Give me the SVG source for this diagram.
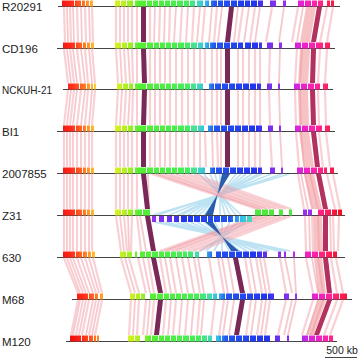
<svg xmlns="http://www.w3.org/2000/svg" width="360" height="360" viewBox="0 0 360 360">
<style>
.lbl{font-family:"Liberation Sans",Arial,sans-serif;font-size:11.5px;fill:#222}
.base{stroke:#444;stroke-width:1;fill:none}
.pa{stroke:#f4a3ab;stroke-width:2.2;stroke-opacity:.5;fill:none}
.pb{stroke:#ec8892;stroke-width:1.8;stroke-opacity:.45;fill:none}
.bl{stroke:#7cc6e6;stroke-width:1.6;stroke-opacity:.5;fill:none}
.sal{fill:#f09a9c;fill-opacity:.6}
.dk{fill:#7a2858}
.dm{fill:#b3315e}
.db{fill:#2a5db0}
.gA path{fill:url(#gA)}
.gB path{fill:url(#gB)}
</style>
<defs>
<linearGradient id="gA" gradientUnits="userSpaceOnUse" x1="60" y1="0" x2="340" y2="0">
<stop offset="0" stop-color="#ee1111"/>
<stop offset="0.04" stop-color="#ff2a1a"/>
<stop offset="0.08" stop-color="#ff6a22"/>
<stop offset="0.115" stop-color="#ffb030"/>
<stop offset="0.13" stop-color="#ffd030"/>
<stop offset="0.19" stop-color="#e4f020"/>
<stop offset="0.25" stop-color="#a0f020"/>
<stop offset="0.28" stop-color="#55ee33"/>
<stop offset="0.45" stop-color="#44ee55"/>
<stop offset="0.49" stop-color="#44ddaa"/>
<stop offset="0.52" stop-color="#33bbee"/>
<stop offset="0.55" stop-color="#2255ee"/>
<stop offset="0.70" stop-color="#2233ee"/>
<stop offset="0.74" stop-color="#7030ee"/>
<stop offset="0.81" stop-color="#9930ee"/>
<stop offset="0.85" stop-color="#dd22dd"/>
<stop offset="0.91" stop-color="#ff22aa"/>
<stop offset="0.95" stop-color="#ff2266"/>
<stop offset="1" stop-color="#ee1122"/>
</linearGradient>
<linearGradient id="gB" href="#gA" gradientUnits="userSpaceOnUse" x1="72" y1="0" x2="352" y2="0"/>
<linearGradient id="gZ" gradientUnits="userSpaceOnUse" x1="152" y1="0" x2="252" y2="0">
<stop offset="0" stop-color="#9930ee"/>
<stop offset="0.18" stop-color="#6a30ee"/>
<stop offset="0.3" stop-color="#2233ee"/>
<stop offset="0.78" stop-color="#2255ee"/>
<stop offset="0.88" stop-color="#33bbee"/>
<stop offset="1" stop-color="#44ddbb"/>
</linearGradient>
</defs>

<g id="links">
<g id="gap1">
<path class="pa" d="M64 7L65 42M70 7L71 42M77 7L78 42M85 7L86 42M92 7L93 42M116 7L116 42M124 7L124 42M132 7L132 42M150 7L150 42M160 7L159 42M170 7L169 42M182 7L180 42M194 7L192 42M205 7L202 42M217 7L214 42M243 7L238 42M255 7L250 42M272 7L266 42M298 7L292 42M327 7L320 42M333 7L327 42"/>
<path class="pb" d="M67 7L68 42M73 7L74 42M81 7L82 42M89 7L90 42M120 7L120 42M128 7L128 42M137 7L137 42M155 7L154 42M165 7L164 42M176 7L174 42M188 7L186 42M200 7L197 42M212 7L209 42M222 7L218 42M238 7L234 42M249 7L244 42M260 7L255 42M284 7L279 42M303 7L297 42"/>
<polygon class="sal" points="306,7 316,7 310,42 300,42"/>
<polygon class="dk" points="141,7 146,7 146,42 141,42"/>
<polygon class="dk" points="229,7 234,7 230,42 225,42"/>
<polygon class="dm" points="317,7 322,7 316,42 311,42"/>
</g>
<g id="gap2">
<path class="pa" d="M64 49L68 83M70 49L74 83M77 49L81 83M85 49L88 83M92 49L95 83M116 49L118 83M124 49L126 83M132 49L133 83M150 49L150 83M160 49L160 83M170 49L170 83M182 49L182 83M194 49L194 83M205 49L205 83M217 49L217 83M243 49L243 83M255 49L255 83M270 49L269 83M297 49L295 83M320 49L318 83M327 49L325 83"/>
<path class="pb" d="M67 49L71 83M73 49L77 83M81 49L85 83M89 49L92 83M120 49L122 83M128 49L130 83M137 49L137 83M155 49L155 83M165 49L165 83M176 49L176 83M188 49L188 83M200 49L200 83M212 49L212 83M221 49L221 83M238 49L238 83M249 49L249 83M260 49L260 83M280 49L279 83M302 49L300 83"/>
<polygon class="sal" points="300,49 310,49 308,83 298,83"/>
<polygon class="dk" points="141,49 146,49 147,83 142,83"/>
<polygon class="dk" points="225,49 230,49 230,83 225,83"/>
<polygon class="dm" points="311,49 316,49 315,83 310,83"/>
</g>
<g id="gap3">
<path class="pa" d="M68 90L64 125M74 90L70 125M81 90L77 125M88 90L85 125M95 90L92 125M118 90L116 125M126 90L124 125M133 90L132 125M150 90L150 125M160 90L160 125M170 90L170 125M182 90L182 125M194 90L194 125M205 90L205 125M217 90L217 125M243 90L243 125M255 90L255 125M269 90L270 125M295 90L296 125M318 90L319 125M325 90L326 125"/>
<path class="pb" d="M71 90L67 125M77 90L73 125M85 90L81 125M92 90L89 125M122 90L120 125M130 90L128 125M137 90L137 125M155 90L155 125M165 90L165 125M176 90L176 125M188 90L188 125M200 90L200 125M212 90L212 125M221 90L221 125M238 90L238 125M249 90L249 125M260 90L260 125M279 90L280 125M300 90L301 125"/>
<polygon class="sal" points="298,90 308,90 309,125 299,125"/>
<polygon class="dk" points="142,90 147,90 146,125 141,125"/>
<polygon class="dk" points="225,90 230,90 230,125 225,125"/>
<polygon class="dm" points="310,90 315,90 316,125 311,125"/>
</g>
<g id="gap4">
<path class="pa" d="M64 132L64 167M70 132L70 167M77 132L77 167M85 132L85 167M92 132L92 167M116 132L116 167M124 132L124 167M132 132L132 167M150 132L150 167M160 132L160 167M170 132L170 167M182 132L182 167M194 132L194 167M205 132L206 167M217 132L218 167M243 132L243 167M255 132L255 167M270 132L272 167M296 132L299 167M319 132L323 167M326 132L330 167"/>
<path class="pb" d="M67 132L67 167M73 132L73 167M81 132L81 167M89 132L89 167M120 132L120 167M128 132L128 167M137 132L137 167M155 132L155 167M165 132L165 167M176 132L176 167M188 132L188 167M200 132L200 167M212 132L213 167M221 132L221 167M238 132L238 167M249 132L249 167M260 132L260 167M280 132L282 167M301 132L304 167"/>
<polygon class="sal" points="299,132 309,132 314,167 304,167"/>
<polygon class="dk" points="141,132 146,132 146,167 141,167"/>
<polygon class="dk" points="225,132 230,132 230,167 225,167"/>
<polygon class="dm" points="311,132 316,132 320,167 315,167"/>
</g>
<g id="gap5">
<path class="bl" d="M199 174L241 215M204 174L236 215M210 174L230 215M215 174L225 215M220 174L220 215M236 174L204 215M241 174L199 215M246 174L194 215M252 174L188 215M258 174L182 215M262 174L178 215M271 174L169 215M282 174L158 215M289 174L153 215"/>
<path class="pa" d="M64 174L64 209M70 174L70 209M77 174L77 209M85 174L85 209M92 174L92 209M116 174L116 209M124 174L124 209M132 174L132 209M137 174L137 209M298 174L304 209M305 174L312 209M327 174L335 209M333 174L340 209M152 174L257 209M160 174L263 209M170 174L271 209M182 174L281 209M194 174L291 209"/>
<path class="pb" d="M67 174L67 209M73 174L73 209M81 174L81 209M89 174L89 209M120 174L120 209M128 174L128 209M148 174L149 209M301 174L308 209M310 174L318 209M156 174L260 209M165 174L267 209M176 174L276 209M188 174L286 209"/>
<polygon class="sal" points="304,174 314,174 322,209 312,209"/>
<polygon class="db" points="222,174 230,174 205,215 213,215"/>
<polygon class="dk" points="141,174 146,174 150,209 145,209"/>
<polygon class="dm" points="316,174 321,174 328,209 323,209"/>
</g>
<g id="gap6">
<path class="bl" d="M154 222L290 251M160 222L284 251M166 222L278 251M175 222L269 251M182 222L262 251M190 222L254 251M197 222L247 251M204 222L240 251M215 222L229 251M222 222L222 251M230 222L214 251M238 222L206 251M246 222L200 251"/>
<path class="pa" d="M64 216L64 251M70 216L70 251M77 216L77 251M85 216L85 251M92 216L92 251M116 216L121 251M124 216L127 251M132 216L131 251M137 216L141 251M257 216L160 251M263 216L167 251M271 216L176 251M281 216L188 251M291 216L199 251M305 216L306 251M312 216L313 251M333 216L334 251M339 216L338 251"/>
<path class="pb" d="M67 216L67 251M73 216L73 251M81 216L81 251M89 216L89 251M120 216L124 251M128 216L129 251M140 216L146 251M260 216L164 251M267 216L172 251M276 216L182 251M286 216L193 251M309 216L310 251M318 216L319 251M330 216L331 251"/>
<polygon class="sal" points="313,216 322,216 323,251 314,251"/>
<polygon class="db" points="205,222 213,222 231,251 239,251"/>
<polygon class="dk" points="145,216 150,216 156,251 151,251"/>
<polygon class="dm" points="323,216 328,216 328,251 323,251"/>
</g>
<g id="gap7">
<path class="pa" d="M64 258L78 293M70 258L83 293M77 258L89 293M85 258L96 293M93 258L102 293M121 258L131 293M129 258L139 293M138 258L146 293M148 258L154 293M160 258L166 293M170 258L176 293M182 258L188 293M194 258L200 293M209 258L215 293M218 258L224 293M245 258L251 293M256 258L262 293M264 258L270 293M280 258L286 293M306 258L313 293M331 258L337 293M336 258L343 293"/>
<path class="pb" d="M67 258L80 293M73 258L86 293M81 258L93 293M89 258L99 293M125 258L135 293M143 258L150 293M165 258L171 293M176 258L182 293M188 258L194 293M198 258L204 293M222 258L228 293M228 258L234 293M250 258L256 293M260 258L266 293M285 258L292 293M294 258L296 293M312 258L318 293M318 258L323 293"/>
<polygon class="sal" points="314,258 322,258 326,293 318,293"/>
<polygon class="dk" points="151,258 156,258 163,293 158,293"/>
<polygon class="dk" points="233,258 238,258 245,293 240,293"/>
<polygon class="dm" points="323,258 328,258 332,293 327,293"/>
</g>
<g id="gap8">
<path class="pa" d="M78 300L71 335M83 300L76 335M89 300L82 335M96 300L89 335M102 300L95 335M131 300L129 335M139 300L137 335M146 300L143 335M154 300L151 335M166 300L163 335M176 300L173 335M188 300L185 335M200 300L197 335M215 300L211 335M224 300L219 335M251 300L246 335M262 300L257 335M270 300L265 335M286 300L278 335M313 300L302 335M337 300L324 335M343 300L330 335"/>
<path class="pb" d="M80 300L73 335M86 300L79 335M93 300L86 335M99 300L92 335M135 300L133 335M150 300L147 335M171 300L168 335M182 300L179 335M194 300L191 335M204 300L201 335M228 300L223 335M234 300L229 335M256 300L251 335M266 300L261 335M292 300L284 335M296 300L288 335M318 300L307 335M323 300L311 335"/>
<polygon class="sal" points="318,300 326,300 314,335 306,335"/>
<polygon class="dk" points="158,300 163,300 159,335 154,335"/>
<polygon class="dk" points="240,300 245,300 239,335 234,335"/>
<polygon class="dm" points="327,300 332,300 319,335 314,335"/>
</g>
</g>

<g id="R20291">
<text class="lbl" x="2" y="10.5">R20291</text>
<path class="base" d="M58 6.5H340"/>
<g class="gA" transform="translate(0,0.5)"><path d="M62 0h12v6h-12zM75 0h6v6h-6zM82 0h3v6h-3zM86 0h3v6h-3zM90 0h3v6h-3zM115 0h5v6h-5zM121 0h5v6h-5zM127 0h6v6h-6zM135 0h11v6h-11zM147 0h5v6h-5zM153 0h5v6h-5zM159 0h5v6h-5zM165 0h5v6h-5zM171 0h5v6h-5zM177 0h6v6h-6zM184 0h5v6h-5zM190 0h5v6h-5zM197 0h6v6h-6zM205 0h4v6h-4zM211 0h6v6h-6zM218 0h5v6h-5zM224 0h6v6h-6zM231 0h6v6h-6zM238 0h6v6h-6zM245 0h5v6h-5zM251 0h6v6h-6zM258 0h5v6h-5zM270 0h6v6h-6zM283 0h3v6h-3zM298 0h6v6h-6zM305 0h6v6h-6zM312 0h5v6h-5zM318 0h5v6h-5zM327 0h3v6h-3zM331 0h3v6h-3z"/></g>
</g>

<g id="CD196">
<text class="lbl" x="2" y="52.5">CD196</text>
<path class="base" d="M57 48.5H335"/>
<g class="gA" transform="translate(0,42.5)"><path d="M63 0h12v6h-12zM76 0h6v6h-6zM83 0h3v6h-3zM87 0h3v6h-3zM91 0h3v6h-3zM115 0h6v6h-6zM122 0h5v6h-5zM128 0h5v6h-5zM135 0h11v6h-11zM147 0h6v6h-6zM154 0h5v6h-5zM160 0h5v6h-5zM166 0h5v6h-5zM172 0h5v6h-5zM178 0h6v6h-6zM185 0h5v6h-5zM191 0h6v6h-6zM198 0h5v6h-5zM205 0h4v6h-4zM210 0h6v6h-6zM217 0h6v6h-6zM224 0h6v6h-6zM231 0h6v6h-6zM238 0h5v6h-5zM245 0h6v6h-6zM252 0h6v6h-6zM259 0h3v6h-3zM267 0h6v6h-6zM279 0h3v6h-3zM295 0h6v6h-6zM302 0h6v6h-6zM309 0h6v6h-6zM316 0h7v6h-7zM325 0h5v6h-5z"/></g>
</g>

<g id="NCKUH-21">
<text class="lbl" x="2" y="93.5" textLength="50" lengthAdjust="spacingAndGlyphs">NCKUH-21</text>
<path class="base" d="M63 89.5H333"/>
<g class="gA" transform="translate(0,83.5)"><path d="M68 0h11v6h-11zM80 0h6v6h-6zM87 0h3v6h-3zM91 0h2v6h-2zM94 0h2v6h-2zM117 0h5v6h-5zM123 0h5v6h-5zM129 0h4v6h-4zM135 0h11v6h-11zM147 0h6v6h-6zM154 0h5v6h-5zM160 0h5v6h-5zM166 0h5v6h-5zM172 0h5v6h-5zM178 0h6v6h-6zM185 0h5v6h-5zM191 0h5v6h-5zM197 0h6v6h-6zM209 0h5v6h-5zM215 0h6v6h-6zM222 0h6v6h-6zM229 0h6v6h-6zM236 0h6v6h-6zM243 0h6v6h-6zM250 0h6v6h-6zM257 0h4v6h-4zM267 0h5v6h-5zM278 0h2v6h-2zM294 0h6v6h-6zM301 0h6v6h-6zM308 0h6v6h-6zM315 0h5v6h-5zM323 0h5v6h-5z"/></g>
</g>

<g id="BI1">
<text class="lbl" x="2" y="135.5">BI1</text>
<path class="base" d="M57 131.5H335"/>
<g class="gA" transform="translate(0,125.5)"><path d="M63 0h12v6h-12zM76 0h6v6h-6zM83 0h3v6h-3zM87 0h3v6h-3zM91 0h3v6h-3zM115 0h6v6h-6zM122 0h5v6h-5zM128 0h5v6h-5zM135 0h11v6h-11zM147 0h6v6h-6zM154 0h5v6h-5zM160 0h5v6h-5zM166 0h5v6h-5zM172 0h5v6h-5zM178 0h6v6h-6zM185 0h5v6h-5zM191 0h6v6h-6zM198 0h6v6h-6zM208 0h5v6h-5zM214 0h6v6h-6zM221 0h6v6h-6zM228 0h6v6h-6zM235 0h6v6h-6zM242 0h6v6h-6zM249 0h6v6h-6zM256 0h6v6h-6zM268 0h5v6h-5zM279 0h2v6h-2zM295 0h6v6h-6zM302 0h6v6h-6zM309 0h6v6h-6zM316 0h6v6h-6zM325 0h5v6h-5z"/></g>
</g>

<g id="n2007855">
<text class="lbl" x="2" y="177.5">2007855</text>
<path class="base" d="M57 173.5H338"/>
<g class="gA" transform="translate(0,167.5)"><path d="M63 0h12v6h-12zM76 0h6v6h-6zM83 0h3v6h-3zM87 0h3v6h-3zM91 0h3v6h-3zM115 0h6v6h-6zM122 0h5v6h-5zM128 0h5v6h-5zM135 0h11v6h-11zM147 0h6v6h-6zM154 0h5v6h-5zM160 0h5v6h-5zM166 0h5v6h-5zM172 0h5v6h-5zM178 0h6v6h-6zM185 0h5v6h-5zM191 0h6v6h-6zM198 0h7v6h-7zM210 0h5v6h-5zM216 0h6v6h-6zM223 0h6v6h-6zM230 0h6v6h-6zM237 0h6v6h-6zM244 0h6v6h-6zM251 0h6v6h-6zM258 0h4v6h-4zM270 0h5v6h-5zM281 0h2v6h-2zM297 0h6v6h-6zM304 0h6v6h-6zM311 0h6v6h-6zM318 0h5v6h-5zM324 0h3v6h-3zM330 0h4v6h-4z"/></g>
</g>

<g id="Z31">
<text class="lbl" x="2" y="219.5">Z31</text>
<path class="base" d="M57 215.5H345"/>
<g class="gA" transform="translate(0,209.5)"><path d="M63 0h12v6h-12zM76 0h6v6h-6zM83 0h3v6h-3zM87 0h3v6h-3zM91 0h3v6h-3zM115 0h6v6h-6zM122 0h5v6h-5zM128 0h5v6h-5zM135 0h7v6h-7zM143 0h7v6h-7zM318 0h6v6h-6zM325 0h6v6h-6zM332 0h5v6h-5zM338 0h4v6h-4z"/></g>
<g transform="translate(0,209.5)"><path fill="#4fe83c" d="M255 0h6v6h-6zM262 0h6v6h-6zM269 0h5v6h-5zM279 0h4v6h-4zM289 0h3v6h-3z"/><path fill="#9a30ee" d="M303 0h4v6h-4zM308 0h4v6h-4z"/></g>
<g transform="translate(0,216)"><path fill="url(#gZ)" d="M152 0h4v6h-4zM159 0h5v6h-5zM167 0h5v6h-5zM174 0h5v6h-5zM181 0h6v6h-6zM188 0h5v6h-5zM194 0h6v6h-6zM201 0h6v6h-6zM208 0h5v6h-5zM214 0h6v6h-6zM221 0h6v6h-6zM228 0h5v6h-5zM235 0h4v6h-4zM240 0h6v6h-6zM247 0h5v6h-5z"/></g>
</g>

<g id="n630">
<text class="lbl" x="2" y="261.5">630</text>
<path class="base" d="M57 257.5H345"/>
<g class="gA" transform="translate(0,251.5)"><path d="M63 0h12v6h-12zM76 0h6v6h-6zM83 0h4v6h-4zM88 0h3v6h-3zM92 0h3v6h-3zM120 0h6v6h-6zM127 0h5v6h-5zM135 0h2v6h-2zM140 0h5v6h-5zM146 0h5v6h-5zM152 0h6v6h-6zM159 0h5v6h-5zM165 0h5v6h-5zM171 0h5v6h-5zM177 0h5v6h-5zM183 0h4v6h-4zM188 0h5v6h-5zM195 0h4v6h-4zM207 0h5v6h-5zM216 0h5v6h-5zM222 0h6v6h-6zM229 0h6v6h-6zM236 0h6v6h-6zM243 0h6v6h-6zM250 0h6v6h-6zM257 0h5v6h-5zM263 0h4v6h-4zM278 0h3v6h-3zM284 0h2v6h-2zM293 0h2v6h-2zM305 0h6v6h-6zM312 0h6v6h-6zM319 0h6v6h-6zM326 0h6v6h-6zM333 0h4v6h-4z"/></g>
</g>

<g id="M68">
<text class="lbl" x="2" y="303.5">M68</text>
<path class="base" d="M72 299.5H352"/>
<g class="gB" transform="translate(0,293.5)"><path d="M77 0h11v6h-11zM89 0h5v6h-5zM95 0h3v6h-3zM100 0h3v6h-3zM130 0h5v6h-5zM136 0h4v6h-4zM141 0h4v6h-4zM150 0h6v6h-6zM157 0h6v6h-6zM164 0h5v6h-5zM170 0h5v6h-5zM176 0h5v6h-5zM182 0h5v6h-5zM188 0h5v6h-5zM194 0h5v6h-5zM200 0h6v6h-6zM207 0h5v6h-5zM213 0h4v6h-4zM219 0h6v6h-6zM226 0h6v6h-6zM233 0h6v6h-6zM240 0h6v6h-6zM247 0h6v6h-6zM254 0h6v6h-6zM261 0h6v6h-6zM268 0h6v6h-6zM284 0h5v6h-5zM295 0h2v6h-2zM312 0h6v6h-6zM319 0h6v6h-6zM326 0h6v6h-6zM333 0h6v6h-6zM340 0h7v6h-7z"/></g>
</g>

<g id="M120">
<text class="lbl" x="2" y="345.5">M120</text>
<path class="base" d="M66 341.5H337"/>
<g class="gB" transform="translate(0,335.5)"><path d="M70 0h11v6h-11zM82 0h6v6h-6zM89 0h4v6h-4zM94 0h2v6h-2zM97 0h2v6h-2zM128 0h6v6h-6zM135 0h5v6h-5zM145 0h6v6h-6zM152 0h6v6h-6zM159 0h5v6h-5zM165 0h5v6h-5zM171 0h5v6h-5zM177 0h5v6h-5zM183 0h6v6h-6zM190 0h5v6h-5zM196 0h5v6h-5zM202 0h5v6h-5zM208 0h4v6h-4zM216 0h5v6h-5zM222 0h6v6h-6zM229 0h6v6h-6zM236 0h6v6h-6zM243 0h6v6h-6zM250 0h6v6h-6zM257 0h6v6h-6zM264 0h6v6h-6zM275 0h5v6h-5zM287 0h2v6h-2zM302 0h6v6h-6zM309 0h6v6h-6zM316 0h6v6h-6zM323 0h5v6h-5zM329 0h4v6h-4z"/></g>
</g>

<g id="scalebar">
<text class="lbl" x="342" y="354" text-anchor="middle" style="font-size:10.5px">500 kb</text>
<path class="base" d="M325 357.5H357"/>
</g>
</svg>
